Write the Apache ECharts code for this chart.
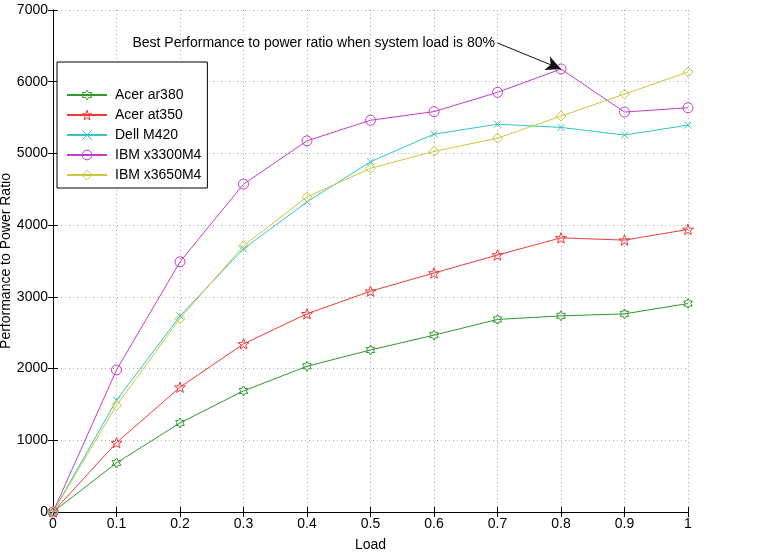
<!DOCTYPE html>
<html>
<head>
<meta charset="utf-8">
<script src="https://cdn.jsdelivr.net/npm/echarts@6/dist/echarts.min.js"></script>
<style>
  html, body { margin: 0; padding: 0; background: #fff; }
  #main { width: 770px; height: 558px; }
</style>
</head>
<body>
<div id="main"></div>
<script>
// load levels and measured ratios per server
var loads = [0, 0.1, 0.2, 0.3, 0.4, 0.5, 0.6, 0.7, 0.8, 0.9, 1];
var acerAr380  = [0, 684, 1242, 1688, 2032, 2259, 2466, 2685, 2735, 2763, 2907];
var acerAt350  = [0, 967, 1740, 2344, 2764, 3079, 3333, 3583, 3823, 3791, 3940];
var dellM420   = [0, 1558, 2735, 3670, 4324, 4884, 5269, 5407, 5363, 5256, 5395];
var ibmX3300M4 = [0, 1981, 3488, 4572, 5176, 5463, 5583, 5852, 6177, 5577, 5637];
var ibmX3650M4 = [0, 1484, 2698, 3712, 4394, 4792, 5028, 5213, 5521, 5828, 6135];

var seriesNames = ['Acer ar380', 'Acer at350', 'Dell M420', 'IBM x3300M4', 'IBM x3650M4'];
var seriesColors = ['#2f9a2f', '#f03a3a', '#33c4c4', '#c33cc8', '#c8c83a'];
var noteText = 'Best Performance to power ratio when system load is 80%';
var noteFrom = [0.7, 6540];   // where the arrow starts (end of the text)
var noteTo = [0.8, 6177];     // best point of IBM x3300M4

// star shaped marker
function starPath(n, rOut, rIn) {
    var d = 'path://';
    for (var i = 0; i < n * 2; i++) {
        var r = i % 2 === 0 ? rOut : rIn;
        var a = -Math.PI / 2 + i * Math.PI / n;
        d += (i === 0 ? 'M' : 'L') + (10 + r * Math.cos(a)).toFixed(2) + ',' + (10 + r * Math.sin(a)).toFixed(2);
    }
    return d + 'Z';
}
var symbols = [starPath(6, 10, 5.77), starPath(5, 10, 4), 'path://M0,0L10,10M0,10L10,0', 'circle', 'diamond'];
var sizes = [10, 11, 7, 10, 10];

function pairs(vals) {
    return loads.map(function (x, i) { return [x, vals[i]]; });
}
var allData = [acerAr380, acerAt350, dellM420, ibmX3300M4, ibmX3650M4];

var font = 'Liberation Sans';
var series = allData.map(function (vals, i) {
    var s = {
        name: seriesNames[i],
        type: 'line',
        data: pairs(vals),
        symbol: symbols[i],
        symbolSize: sizes[i],
        symbolKeepAspect: true,
        showAllSymbol: true,
        lineStyle: { color: seriesColors[i], width: 1 },
        itemStyle: { color: 'rgba(255,255,255,0)', borderColor: seriesColors[i], borderWidth: 1 },
        emphasis: { disabled: true },
        animation: false,
        z: 3
    };
    if (i === 3) {
        s.markLine = {
            silent: true,
            symbol: ['none', 'arrow'],
            symbolSize: [11, 15],
            lineStyle: { color: '#111', width: 1, type: 'solid' },
            label: { show: false },
            data: [[{ coord: noteFrom }, { coord: noteTo }]]
        };
        s.markPoint = {
            silent: true,
            symbol: 'circle',
            symbolSize: 1,
            itemStyle: { color: 'rgba(0,0,0,0)', borderWidth: 0 },
            label: {
                show: true, position: 'left', distance: 2,
                formatter: noteText,
                color: '#000', fontSize: 14, fontFamily: font
            },
            data: [{ coord: noteFrom }]
        };
    }
    return s;
});

var myChart = echarts.init(document.getElementById('main'));
var option = {
    backgroundColor: '#fff',
    animation: false,
    grid: { left: 53, right: 82, top: 10, bottom: 46, containLabel: false, outerBoundsMode: 'none' },
    legend: {
        orient: 'vertical',
        left: 57,
        top: 62,
        padding: [26, 6, 6, 9],
        itemGap: 6,
        itemWidth: 40,
        itemHeight: 12,
        borderColor: '#000',
        borderWidth: 1,
        backgroundColor: '#fff',
        itemStyle: { borderWidth: 1 },
        textStyle: { color: '#000', fontSize: 14, fontFamily: font, padding: [0, 0, 0, 3] },
        data: seriesNames
    },
    xAxis: [{
        type: 'value',
        min: 0, max: 1, interval: 0.1,
        name: 'Load',
        nameLocation: 'middle',
        nameGap: 26,
        nameMoveOverlap: false,
        nameTextStyle: { color: '#000', fontSize: 14, fontFamily: font },
        axisLine: { lineStyle: { color: '#000' } },
        axisTick: { inside: true, length: 5, lineStyle: { color: '#000' } },
        axisLabel: { color: '#000', fontSize: 14, fontFamily: font, margin: 5 },
        splitLine: { show: true, lineStyle: { color: '#aaa', type: [1, 3] } }
    }, {
        type: 'value',
        position: 'top',
        min: 0, max: 1, interval: 0.1,
        axisLine: { lineStyle: { color: '#000' } },
        axisTick: { inside: true, length: 5, lineStyle: { color: '#000' } },
        axisLabel: { show: false },
        splitLine: { show: false }
    }],
    yAxis: [{
        type: 'value',
        min: 0, max: 7000, interval: 1000,
        name: 'Performance to Power Ratio',
        nameLocation: 'middle',
        nameGap: 40,
        nameMoveOverlap: false,
        nameTextStyle: { color: '#000', fontSize: 14, fontFamily: font },
        axisLine: { show: true, lineStyle: { color: '#000' } },
        axisTick: { show: true, inside: true, length: 5, lineStyle: { color: '#000' } },
        axisLabel: {
            color: '#000', fontSize: 14, fontFamily: font, margin: 5,
            formatter: function (v) { return String(v); }
        },
        splitLine: { show: true, lineStyle: { color: '#aaa', type: [1, 3] } }
    }, {
        type: 'value',
        position: 'right',
        min: 0, max: 7000, interval: 1000,
        axisLine: { show: true, lineStyle: { color: '#000' } },
        axisTick: { show: true, inside: true, length: 5, lineStyle: { color: '#000' } },
        axisLabel: { show: false },
        splitLine: { show: false }
    }],
    series: series
};
myChart.setOption(option);
</script>
</body>
</html>
